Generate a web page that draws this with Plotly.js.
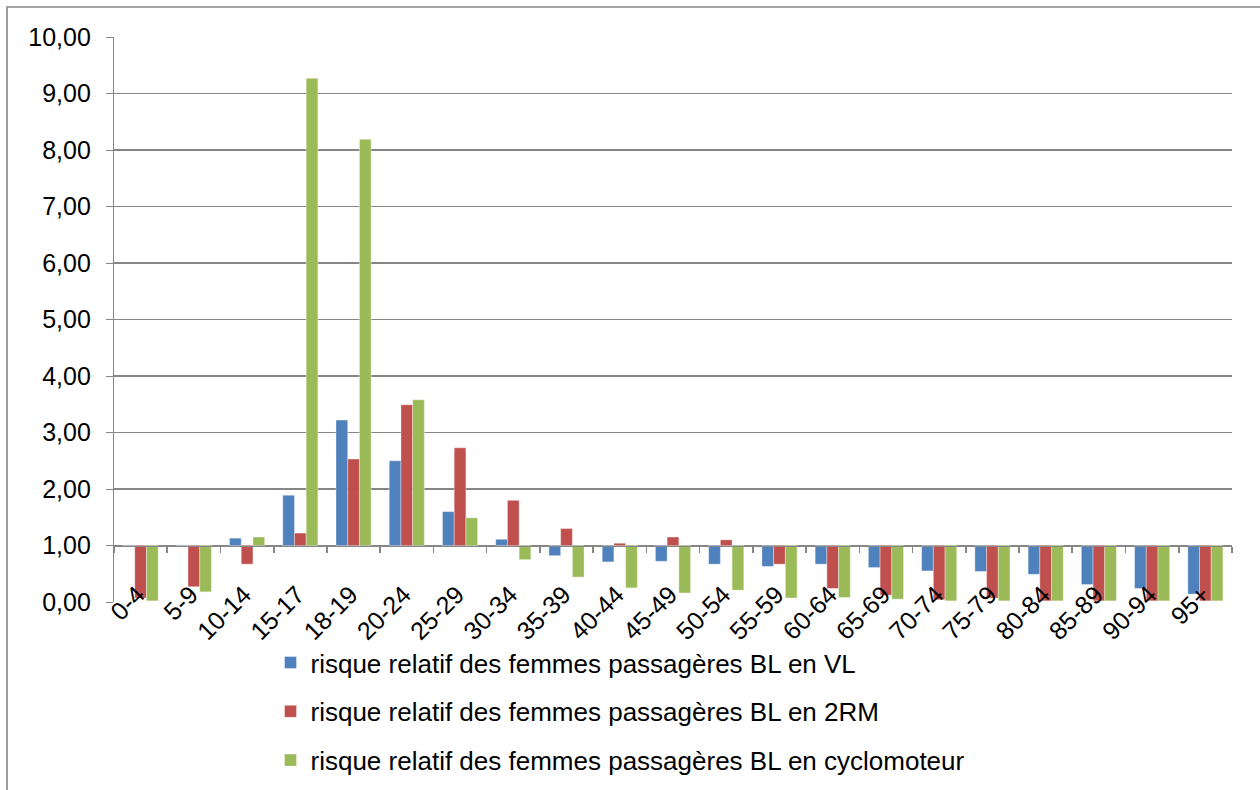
<!DOCTYPE html>
<html>
<head>
<meta charset="utf-8">
<script src="https://cdn.plot.ly/plotly-3.0.1.min.js"></script>
<style>
  html, body { margin: 0; padding: 0; background: #fff; }
  #chart { width: 1260px; height: 790px; }
</style>
</head>
<body>
<div id="chart"></div>
<script>
const categories = ["0-4","5-9","10-14","15-17","18-19","20-24","25-29","30-34","35-39","40-44","45-49","50-54","55-59","60-64","65-69","70-74","75-79","80-84","85-89","90-94","95+"];
const seriesNames = [
  "risque relatif des femmes passagères BL en VL",
  "risque relatif des femmes passagères BL en 2RM",
  "risque relatif des femmes passagères BL en cyclomoteur"
];
const valuesVL = [1.01,1.01,1.13,1.89,3.22,2.50,1.60,1.11,0.82,0.71,0.72,0.67,0.63,0.67,0.61,0.55,0.54,0.49,0.31,0.24,0.14];
const values2RM = [0.07,0.27,0.67,1.22,2.53,3.49,2.73,1.80,1.30,1.04,1.15,1.10,0.67,0.24,0.12,0.04,0.07,0.02,0.02,0.02,0.02];
const valuesCyclo = [0.02,0.18,1.15,9.27,8.19,3.58,1.49,0.75,0.44,0.25,0.16,0.21,0.07,0.08,0.05,0.02,0.02,0.02,0.02,0.02,0.02];
const colors = ["#4F81BD","#C0504D","#9BBB59"];
const baseline = 1;

const allValues = [valuesVL, values2RM, valuesCyclo];
const traces = allValues.map((vals, i) => ({
  type: "bar",
  name: seriesNames[i],
  x: categories,
  y: vals.map(v => v - baseline),
  base: baseline,
  marker: { color: colors[i], line: { color: "rgba(255,255,255,0.6)", width: 0.6 } },
  legendgroup: "g" + i,
  hoverinfo: "skip"
}));
// trace on the crossing axis (draws the category axis line at y = 1 with its ticks)
traces.push({
  type: "scatter", mode: "none", x: categories, y: categories.map(() => baseline),
  xaxis: "x2", yaxis: "y", showlegend: false, hoverinfo: "skip"
});

const FS = 25;
const layout = {
  width: 1260, height: 790,
  margin: { l: 114, r: 28, t: 37, b: 188, autoexpand: false },
  paper_bgcolor: "#ffffff",
  plot_bgcolor: "#ffffff",
  font: { family: "Liberation Sans, Arial, sans-serif", size: FS, color: "#000" },
  separators: ", ",
  barmode: "group",
  bargap: 0.34,
  bargroupgap: 0,
  showlegend: true,
  legend: {
    x: 0.140, y: 0.191, xref: "paper", yref: "container",
    xanchor: "left", yanchor: "top",
    orientation: "v",
    traceorder: "grouped",
    tracegroupgap: 12,
    font: { size: 26, color: "#000" },
    bgcolor: "rgba(0,0,0,0)"
  },
  xaxis: {
    type: "category",
    tickangle: -45,
    showgrid: false,
    showline: false,
    ticks: "",
    tickfont: { size: FS },
    ticklabelstandoff: -28,
    ticklabelshift: -3,
    automargin: false,
    range: [-0.5, 20.5],
    fixedrange: true
  },
  xaxis2: {
    type: "category",
    overlaying: "x",
    matches: "x",
    anchor: "free",
    position: 0.1,
    side: "bottom",
    showline: true,
    linecolor: "#868686",
    linewidth: 1.6,
    ticks: "outside",
    tickson: "boundaries",
    ticklen: 6,
    tickcolor: "#868686",
    tickwidth: 1.6,
    showticklabels: false,
    showgrid: false,
    automargin: false
  },
  yaxis: {
    range: [0, 10],
    dtick: 1,
    tickformat: ".2f",
    showgrid: true,
    gridcolor: "#868686",
    gridwidth: 1.2,
    zeroline: false,
    showline: true,
    linecolor: "#868686",
    linewidth: 1.2,
    ticks: "outside",
    ticklen: 7,
    tickcolor: "#868686",
    tickfont: { size: FS },
    ticklabelstandoff: 10,
    automargin: false,
    fixedrange: true
  },
  shapes: [{
    type: "rect", xref: "paper", yref: "paper",
    x0: -0.0957, x1: 1.2, y0: -0.6, y1: 1.053,
    line: { color: "#868686", width: 1.6 },
    fillcolor: "rgba(0,0,0,0)",
    layer: "below"
  }]
};

Plotly.newPlot("chart", traces, layout, { staticPlot: true, displayModeBar: false });
</script>
</body>
</html>
